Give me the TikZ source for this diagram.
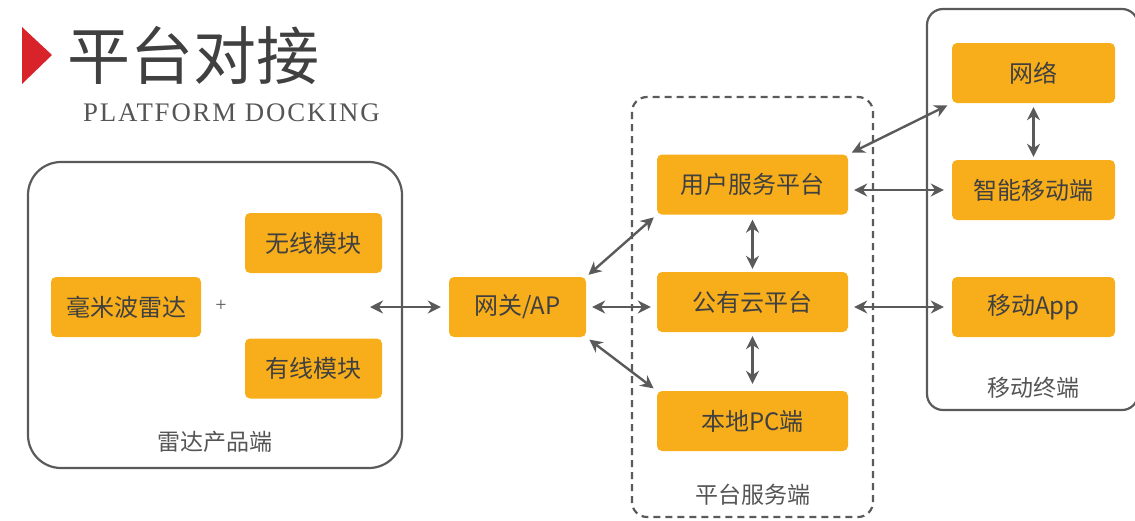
\documentclass[tikz,border=0pt]{standalone}
\usepackage{fontspec}
\setmainfont{Liberation Serif}
\newfontfamily\cjk{Noto Sans CJK SC}
\newfontfamily\spacedserif[LetterSpace=7]{Liberation Serif}
\usetikzlibrary{arrows.meta}
\definecolor{boxorange}{HTML}{F8AE1A}
\definecolor{textgray}{HTML}{404040}
\definecolor{linegray}{HTML}{5A5A5A}
\definecolor{labelgray}{HTML}{555555}
\definecolor{titlered}{HTML}{D9232A}
\tikzset{
  orangebox/.style={fill=boxorange, rounded corners=5pt, minimum width=#1, minimum height=60pt,
    inner sep=0pt, font=\cjk\fontsize{24}{26}\selectfont, text=textgray},
  orangebox/.default=137pt,
  grouplabel/.style={font=\cjk\fontsize{23}{25}\selectfont, text=labelgray, inner sep=0pt},
  arr/.style={{Stealth[length=13pt,width=13pt]}-{Stealth[length=13pt,width=13pt]}, line width=2.4pt,
    draw=linegray, shorten <=6pt, shorten >=6pt},
}
\begin{document}
\begin{tikzpicture}[x=1pt,y=-1pt]
\useasboundingbox (0,0) rectangle (1135,520);
% title
\fill[titlered] (22,27) -- (52,55) -- (22,84) -- cycle;
\node[anchor=west, inner sep=0pt, font=\cjk\fontsize{63}{65}\selectfont, text=textgray] (title) at (67,55) {平台对接};
\node[anchor=west, inner sep=0pt, font=\spacedserif\fontsize{26.8}{28}\selectfont, text=labelgray] (subtitle) at (83,113) {PLATFORM DOCKING};

% group frames
\draw[linegray, line width=2.2pt, rounded corners=33pt] (28,162) rectangle (402,468);
\draw[linegray, line width=2.2pt, dashed, dash pattern=on 7pt off 5pt, rounded corners=15pt] (632,97) rectangle (873,517);
\draw[linegray, line width=2.2pt, rounded corners=16pt] (927,9) rectangle (1138,410);

% left group
\node[orangebox=150pt] (radar) at (126,307) {毫米波雷达};
\node[font=\fontsize{20}{20}\selectfont, text=labelgray, inner sep=0pt] (plus) at (221,306) {+};
\node[orangebox] (wless) at (313.5,243) {无线模块};
\node[orangebox] (wired) at (313.5,368.5) {有线模块};
\node[grouplabel] (lbl1) at (215,442) {雷达产品端};
\coordinate (leftend) at (370,307);

% gateway
\node[orangebox] (gw) at (517.5,307) {网关/AP};

% platform
\node[orangebox=191pt] (user) at (752.5,184.5) {用户服务平台};
\node[orangebox=191pt] (cloud) at (752.5,302) {公有云平台};
\node[orangebox=191pt] (pc) at (752.5,421) {本地PC端};
\node[grouplabel] (lbl2) at (753,495) {平台服务端};

% mobile
\node[orangebox=163pt] (net) at (1033.5,73) {网络};
\node[orangebox=163pt] (smart) at (1033.5,190) {智能移动端};
\node[orangebox=163pt] (app) at (1033.5,307) {移动App};
\node[grouplabel] (lbl3) at (1033,388) {移动终端};

% connectors
\draw[arr, shorten <=0pt, shorten >=8pt] (leftend) -- (gw.west);
\draw[arr, shorten <=3pt, shorten >=4pt] (gw.north east) -- (user.south west);
\draw[arr] (gw.east) -- (cloud.west |- gw.east);
\draw[arr, shorten <=4pt, shorten >=4pt] (gw.south east) -- (pc.north west);
\draw[arr, shorten <=5pt, shorten >=3pt] (user.south) -- (cloud.north);
\draw[arr, shorten <=4pt, shorten >=7pt] (cloud.south) -- (pc.north);
\draw[arr, shorten <=4pt, shorten >=5pt] (user.north east) -- (net.south west);
\draw[arr, shorten >=8pt] (user.east |- smart.west) -- (smart.west);
\draw[arr, shorten >=8pt] (cloud.east |- app.west) -- (app.west);
\draw[arr, shorten <=4pt, shorten >=3pt] (net.south) -- (smart.north);
\end{tikzpicture}
\end{document}
